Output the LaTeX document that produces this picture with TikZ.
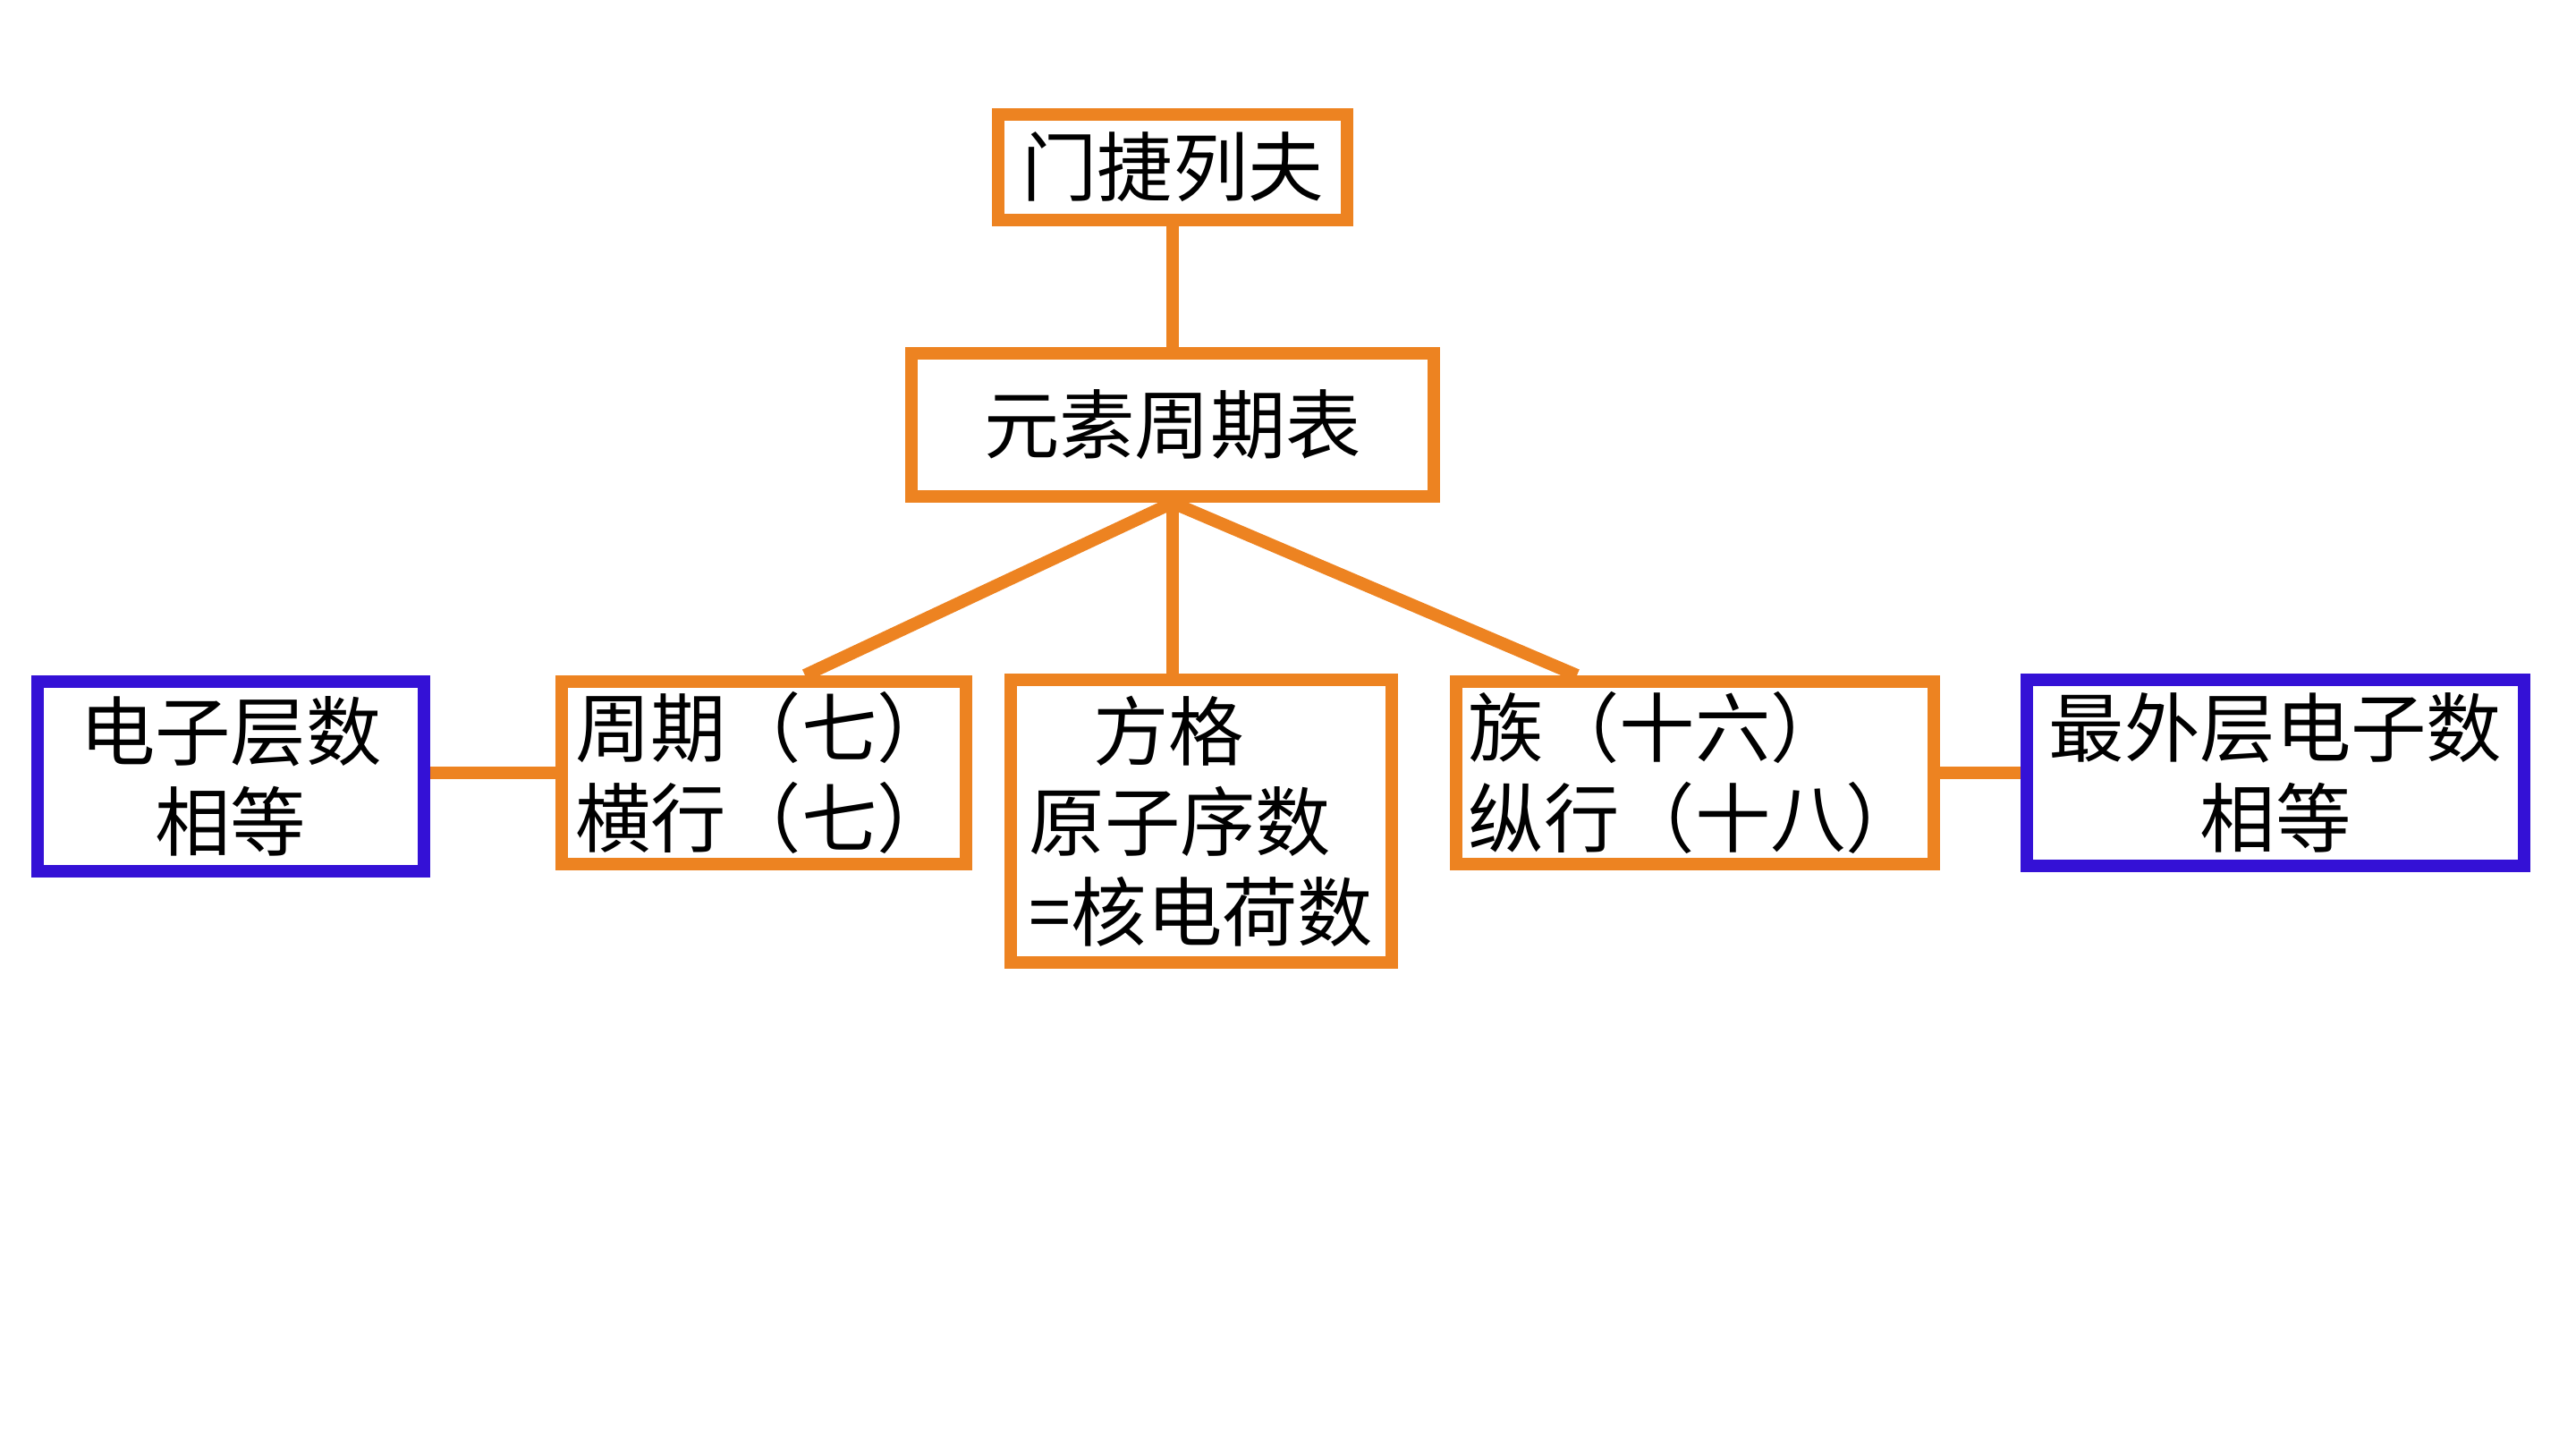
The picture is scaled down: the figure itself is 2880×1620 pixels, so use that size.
\documentclass[tikz,border=0pt]{standalone}
\usepackage{fontspec}
\setmainfont{Noto Sans CJK SC}
\usepackage{tikz}
\usetikzlibrary{calc}
\definecolor{cheng}{RGB}{237,131,33}
\definecolor{lan}{RGB}{52,17,214}

\begin{document}
\begin{tikzpicture}[
  x=0.01cm, y=-0.01cm,
  font=\fontsize{24}{28.7}\selectfont,
  box/.style={rectangle, draw=cheng, line width=4pt, fill=white,
    inner sep=0pt, align=center},
  lbox/.style={box, align=left},
  bluebox/.style={box, draw=lan},
  conn/.style={draw=cheng, line width=4pt}
]
\useasboundingbox (0,0) rectangle (2880,1620);
\node[box, minimum width=3.90cm, minimum height=1.18cm] (mjlf) at (1311,187)
  {门捷列夫};
\node[box, minimum width=5.83cm, minimum height=1.60cm] (yszq) at (1311,475)
  {元素周期表};
\node[box, minimum width=4.52cm, minimum height=2.04cm] (zq) at (854,864)
  {周期（七）\\横行（七）};
\node[lbox, minimum width=4.25cm, minimum height=3.15cm] (fg) at (1343,918)
  {\hspace{0.85em}方格\\原子序数\\=核电荷数};
\node[lbox, minimum width=5.33cm, minimum height=2.04cm] (zu) at (1895,864)
  {族（十六）\\纵行（十八）};
\node[bluebox, minimum width=4.32cm, minimum height=2.12cm] (dz) at (258,868)
  {电子层数\\相等};
\node[bluebox, minimum width=5.56cm, minimum height=2.08cm] (zw) at (2544,864)
  {最外层电子数\\相等};
\draw[conn] (mjlf.south) -- (yszq.north);
\draw[conn] (yszq.south) -- ($(zq.north)+(46,0)$);
\draw[conn] (yszq.south) -- (yszq.south |- fg.north);
\draw[conn] (yszq.south) -- ($(zu.north)+(-132,0)$);
\draw[conn] (dz.east |- zq.west) -- (zq.west);
\draw[conn] (zu.east) -- (zu.east -| zw.west);
\end{tikzpicture}
\end{document}
